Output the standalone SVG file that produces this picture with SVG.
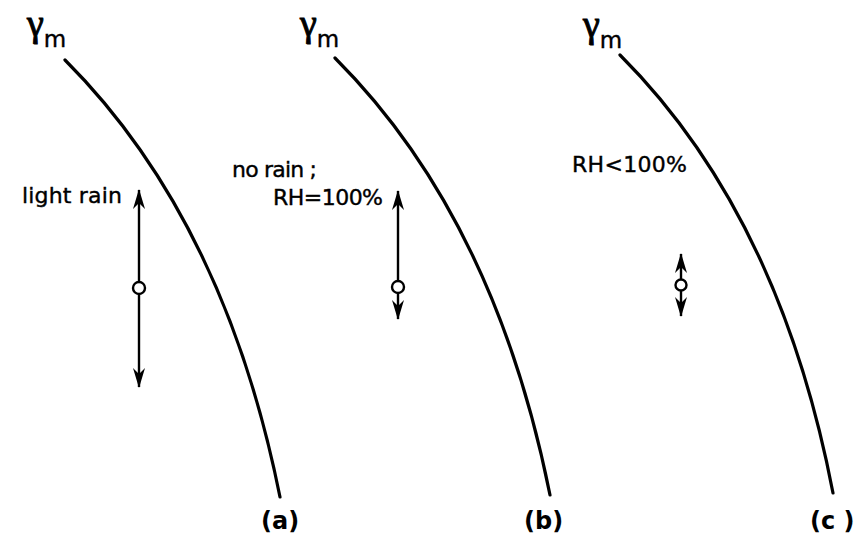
<svg xmlns="http://www.w3.org/2000/svg" width="858" height="535" viewBox="0 0 858 535">
<style>
.curve{fill:none;stroke:#000;stroke-width:3.2;stroke-linecap:round}
.arr{fill:none;stroke:#000;stroke-width:2.4;marker-start:url(#ah);marker-end:url(#ah)}
.dot{fill:#fff;stroke:#000;stroke-width:2.4}
text{font-family:"DejaVu Sans","Liberation Sans",sans-serif;fill:#000;stroke:#000;stroke-width:0.4}
.lbl{font-size:22px}
.g{font-size:38px;font-family:"Liberation Serif","DejaVu Serif",serif;stroke-width:1}
.sub{font-size:23px;font-family:"DejaVu Sans",sans-serif;stroke-width:0.4}
.pl{font-size:24px;font-weight:bold;stroke-width:0}
</style>
<defs>
<marker id="ah" markerUnits="userSpaceOnUse" viewBox="-21 -7 23 14" refX="0" refY="0" markerWidth="23" markerHeight="14" orient="auto-start-reverse">
<path d="M1,0 L-19,-6 L-13,0 L-19,6 Z" fill="#000"/>
</marker>
</defs>
<rect width="858" height="535" fill="#fff"/>
<g id="connectors">
<path class="curve" d="M65,60 Q224.5,219.5 280,497"/>
<path class="curve" d="M335,58 Q494.5,217.5 550,495"/>
<path class="curve" d="M620,55 Q779.5,214.5 833,493"/>
<line class="arr" x1="139" y1="190" x2="139" y2="387"/>
<line class="arr" x1="398" y1="191" x2="398" y2="319"/>
<line class="arr" x1="681" y1="254" x2="681" y2="316"/>
</g>
<g id="panel-a">
<text x="27" y="36" class="g">γ<tspan class="sub" dy="11">m</tspan></text>
<text x="22" y="203" class="lbl" textLength="100">light rain</text>
<circle class="dot" cx="139" cy="288" r="6"/>
<text x="261" y="529" class="pl">(a)</text>
</g>
<g id="panel-b">
<text x="300" y="36" class="g">γ<tspan class="sub" dy="11">m</tspan></text>
<text x="232" y="177" class="lbl" textLength="85">no rain ;</text>
<text x="273" y="205" class="lbl" textLength="110">RH=100%</text>
<circle class="dot" cx="398" cy="287" r="6"/>
<text x="524" y="529" class="pl">(b)</text>
</g>
<g id="panel-c">
<text x="583" y="37" class="g">γ<tspan class="sub" dy="11">m</tspan></text>
<text x="572" y="172" class="lbl" textLength="115">RH&lt;100%</text>
<circle class="dot" cx="681" cy="285" r="5.5"/>
<text x="810" y="529" class="pl">(c )</text>
</g>
</svg>
